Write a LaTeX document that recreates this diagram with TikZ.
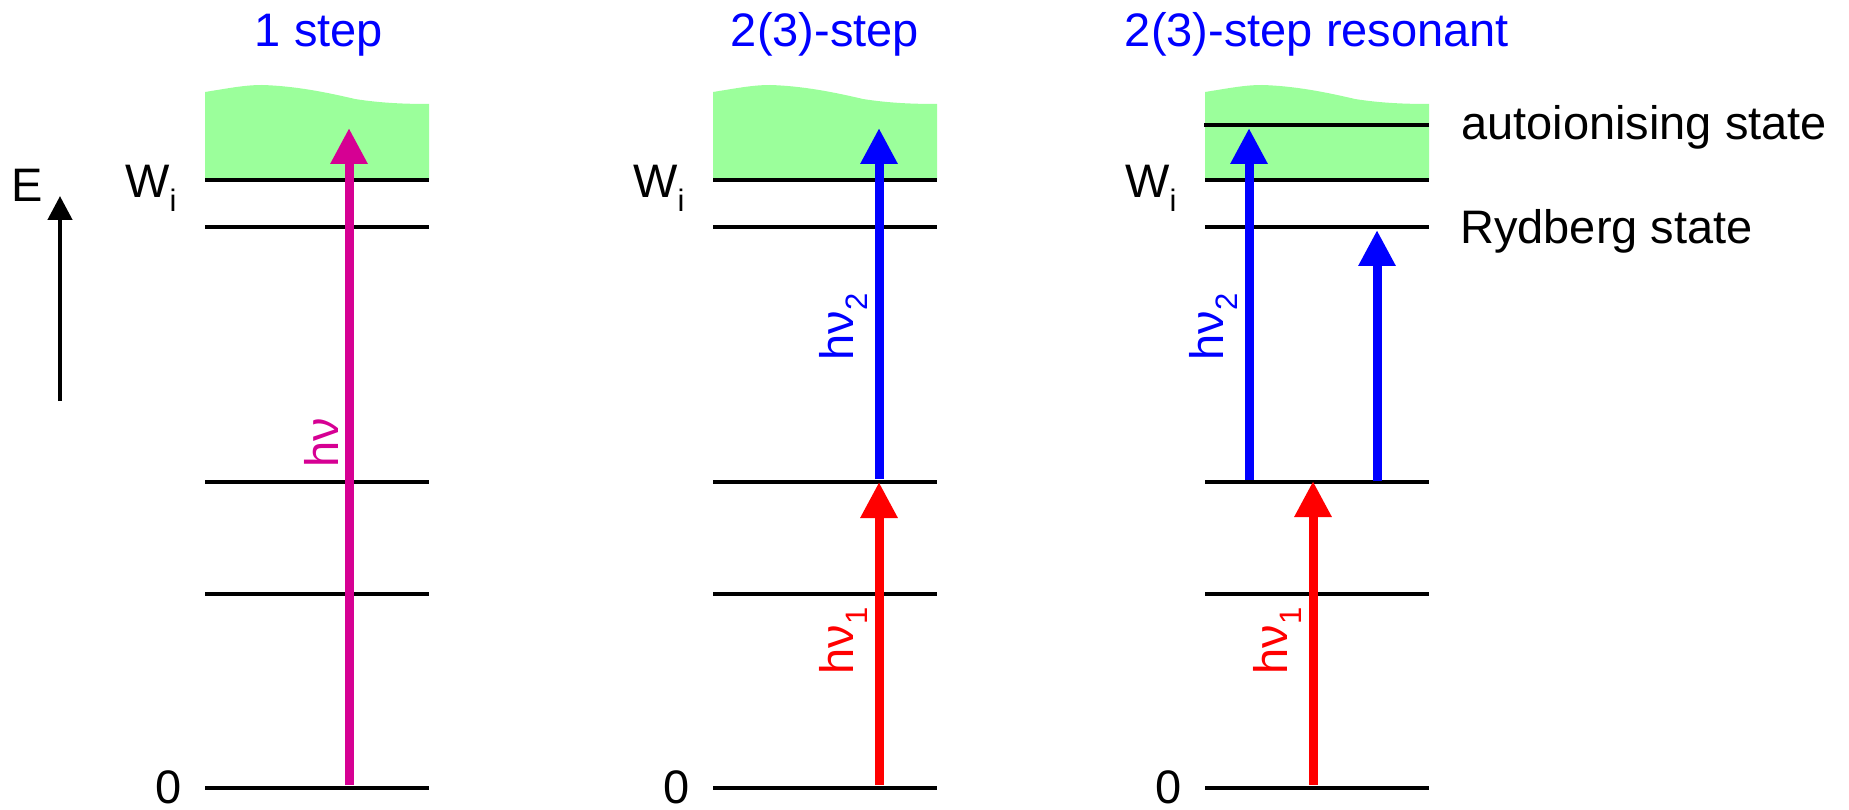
\documentclass[tikz,border=0pt]{standalone}
\usepackage{fontspec}
\setmainfont{Liberation Sans}
\usetikzlibrary{arrows.meta}
\definecolor{lvlgreen}{RGB}{155,255,155}
\definecolor{photmag}{RGB}{214,0,147}
\definecolor{photred}{RGB}{255,0,0}
\definecolor{photblue}{RGB}{0,0,255}
\newcommand\txtbig{\fontsize{47pt}{52pt}\selectfont}
\newcommand\txtsub[1]{\raisebox{-14pt}{\fontsize{31pt}{31pt}\selectfont #1}}
\begin{document}
\begin{tikzpicture}[x=1pt,y=-1pt,
  level/.style={line width=3.8pt},
  photon/.style={line width=9pt,-{Triangle[length=36pt,width=35pt]}},
  lbl/.style={inner sep=0pt,font=\txtbig},
  title/.style={lbl,text=photblue,anchor=base},
  vlbl/.style={lbl,rotate=90,anchor=base}]
\useasboundingbox (0,0) rectangle (1849,810);
% continua and levels
\foreach \dx in {0,508,1000}{
  \begin{scope}[xshift=\dx pt]
    \fill[lvlgreen] (205,180) -- (205,92) .. controls (230,88) and (245,85) .. (262,85)
      .. controls (295,86) and (325,92) .. (355,99) .. controls (380,103) and (405,104) .. (429,104)
      -- (429,180) -- cycle;
    \foreach \yy in {180,227,482,594,788}{\draw[level] (205,\yy) -- (429,\yy);}
  \end{scope}
}
\draw[level] (1204,125) -- (1429,125);
% titles
\node[title] (t1) at (319,47) {1 step};
\node[title] (t2) at (825,47) {2(3)-step};
\node[title] (t3) at (1317,47) {2(3)-step resonant};
% level labels
\node[lbl,anchor=base west] (w1) at (125,198) {W\txtsub{i}};
\node[lbl,anchor=base west] (w2) at (633,198) {W\txtsub{i}};
\node[lbl,anchor=base west] (w3) at (1125,198) {W\txtsub{i}};
\node[lbl,anchor=base east] (z1) at (182,803) {0};
\node[lbl,anchor=base east] (z2) at (690,803) {0};
\node[lbl,anchor=base east] (z3) at (1182,803) {0};
\node[lbl,anchor=base west] (auto) at (1461,140) {autoionising state};
\node[lbl,anchor=base west] (ryd) at (1460,244) {Rydberg state};
% energy axis
\node[lbl,anchor=base west] (E) at (11,202) {E};
\coordinate (ea) at (60,401);
\coordinate (eb) at (60,196);
\draw[line width=4.5pt,-{Triangle[length=24pt,width=24pt]}] (ea) -- (eb);
% panel 1
\coordinate (p1a) at (349,785);
\coordinate (p1b) at (349,128);
\draw[photon,photmag] (p1a) -- (p1b);
\node[vlbl,text=photmag] (hv) at (338,443) {hν};
% panel 2
\coordinate (p2a) at (879,785);
\coordinate (p2b) at (879,482);
\coordinate (p2c) at (879,479);
\coordinate (p2d) at (879,128);
\draw[photon,photred] (p2a) -- (p2b);
\draw[photon,photblue] (p2c) -- (p2d);
\node[vlbl,text=photblue] (hv2a) at (853,327) {hν\txtsub{2}};
\node[vlbl,text=photred] (hv1a) at (853,641) {hν\txtsub{1}};
% panel 3
\coordinate (p3a) at (1313,785);
\coordinate (p3b) at (1313,481);
\coordinate (p3c) at (1249,480);
\coordinate (p3d) at (1249,128);
\coordinate (p3e) at (1377,481);
\coordinate (p3f) at (1377,230);
\draw[photon,photred] (p3a) -- (p3b);
\draw[photon,photblue] (p3c) -- (p3d);
\draw[photon,photblue] (p3e) -- (p3f);
\node[vlbl,text=photblue] (hv2b) at (1223,327) {hν\txtsub{2}};
\node[vlbl,text=photred] (hv1b) at (1287,641) {hν\txtsub{1}};
\end{tikzpicture}
\end{document}
